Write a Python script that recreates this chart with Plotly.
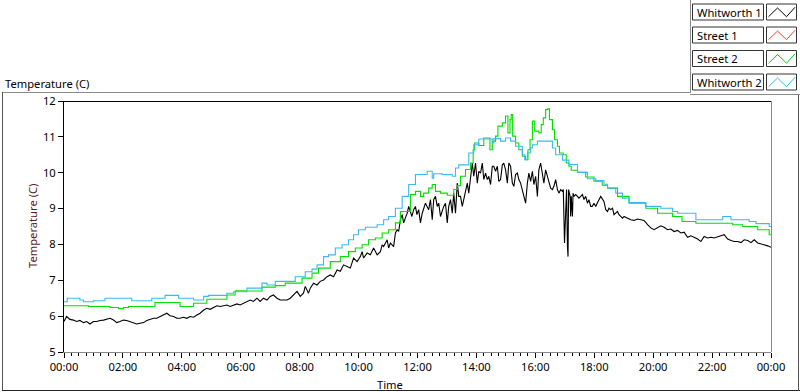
import plotly.graph_objects as go

# ---------------- data ----------------
series_names = ["Whitworth 1", "Street 1", "Street 2", "Whitworth 2"]
series_colors = ["#000000", "#ff3a3a", "#00e000", "#3cb8f5"]

x_tick_hours = [0, 2, 4, 6, 8, 10, 12, 14, 16, 18, 20, 22, 24]
x_tick_labels = ["00:00", "02:00", "04:00", "06:00", "08:00", "10:00", "12:00",
                 "14:00", "16:00", "18:00", "20:00", "22:00", "00:00"]
y_tick_values = [5, 6, 7, 8, 9, 10, 11, 12]

whitworth1_hours = [
    0.00, 0.09, 0.20, 0.32, 0.43, 0.54, 0.66, 0.77, 0.88, 1.00, 1.11, 1.22, 1.34, 1.45, 1.56,
    1.68, 1.79, 1.90, 2.02, 2.13, 2.24, 2.36, 2.47, 2.58, 2.70, 2.81, 2.92, 3.04, 3.15, 3.26,
    3.38, 3.49, 3.60, 3.72, 3.83, 3.94, 4.06, 4.17, 4.28, 4.40, 4.51, 4.62, 4.74, 4.85, 4.96,
    5.08, 5.19, 5.30, 5.42, 5.53, 5.64, 5.76, 5.87, 5.98, 6.09, 6.21, 6.32, 6.43, 6.55, 6.66,
    6.77, 6.89, 7.00, 7.11, 7.23, 7.34, 7.45, 7.57, 7.68, 7.79, 7.91, 8.02, 8.13, 8.19, 8.30,
    8.36, 8.47, 8.59, 8.70, 8.81, 8.93, 9.04, 9.15, 9.27, 9.38, 9.49, 9.61, 9.72, 9.83, 9.95,
    10.06, 10.12, 10.17, 10.29, 10.40, 10.51, 10.63, 10.74, 10.80, 10.85, 10.97, 11.02, 11.08,
    11.14, 11.19, 11.25, 11.31, 11.36, 11.42, 11.48, 11.53, 11.59, 11.65, 11.70, 11.76, 11.81,
    11.87, 11.93, 11.98, 12.04, 12.10, 12.16, 12.27, 12.33, 12.38, 12.44, 12.50, 12.55, 12.61,
    12.67, 12.72, 12.78, 12.84, 12.89, 12.95, 13.01, 13.06, 13.12, 13.18, 13.23, 13.29, 13.35,
    13.40, 13.46, 13.52, 13.57, 13.63, 13.69, 13.74, 13.80, 13.86, 13.91, 13.97, 14.03, 14.08,
    14.14, 14.20, 14.25, 14.31, 14.37, 14.42, 14.48, 14.54, 14.59, 14.65, 14.71, 14.76, 14.82,
    14.88, 14.93, 14.99, 15.05, 15.10, 15.16, 15.22, 15.27, 15.33, 15.39, 15.44, 15.50, 15.56,
    15.61, 15.67, 15.73, 15.78, 15.84, 15.90, 15.95, 16.01, 16.07, 16.12, 16.18, 16.24, 16.29,
    16.35, 16.41, 16.46, 16.52, 16.58, 16.63, 16.69, 16.75, 16.80, 16.86, 16.92, 16.95, 16.99,
    17.03, 17.06, 17.09, 17.11, 17.13, 17.18, 17.20, 17.22, 17.26, 17.28, 17.31, 17.37, 17.43,
    17.48, 17.54, 17.60, 17.65, 17.71, 17.77, 17.82, 17.88, 17.93, 17.99, 18.05, 18.10, 18.16,
    18.22, 18.33, 18.39, 18.45, 18.50, 18.56, 18.62, 18.67, 18.73, 18.79, 18.84, 18.90, 18.96,
    19.01, 19.13, 19.24, 19.35, 19.47, 19.58, 19.69, 19.81, 19.92, 20.03, 20.15, 20.26, 20.37,
    20.49, 20.60, 20.71, 20.83, 20.94, 21.05, 21.17, 21.28, 21.39, 21.51, 21.62, 21.73, 21.85,
    21.96, 22.07, 22.19, 22.30, 22.41, 22.53, 22.64, 22.75, 22.87, 22.98, 23.09, 23.21, 23.32,
    23.43, 23.55, 23.66, 23.77, 23.89, 24.00]
whitworth1_temp = [
    5.85, 5.99, 5.91, 5.89, 5.85, 5.88, 5.82, 5.85, 5.78, 5.85, 5.85, 5.88, 5.89, 5.91, 5.94,
    5.89, 5.82, 5.85, 5.89, 5.88, 5.85, 5.82, 5.78, 5.80, 5.82, 5.88, 5.91, 5.94, 5.94, 5.99,
    6.03, 6.08, 6.01, 5.99, 5.94, 5.94, 5.97, 5.94, 5.99, 5.97, 6.03, 6.08, 6.17, 6.22, 6.19,
    6.25, 6.29, 6.27, 6.29, 6.31, 6.27, 6.31, 6.34, 6.31, 6.36, 6.41, 6.45, 6.41, 6.50, 6.41,
    6.50, 6.45, 6.55, 6.59, 6.50, 6.45, 6.45, 6.45, 6.50, 6.59, 6.69, 6.55, 6.64, 6.83, 6.64,
    6.78, 6.92, 6.87, 6.97, 7.01, 7.10, 7.15, 7.10, 7.29, 7.25, 7.43, 7.39, 7.34, 7.62, 7.52,
    7.66, 7.80, 7.62, 7.76, 7.71, 7.90, 7.71, 7.80, 7.99, 7.94, 8.13, 7.90, 8.04,
    7.99, 7.94, 8.32, 8.41, 8.36, 8.69, 8.83, 8.60, 8.74, 8.87, 9.06, 8.87, 8.78,
    8.97, 9.06, 8.83, 8.97, 8.60, 8.87, 9.15, 9.06, 8.97, 9.25, 8.69, 9.25, 9.34,
    9.06, 9.15, 8.78, 8.97, 9.06, 9.15, 8.60, 9.06, 9.25, 8.87, 9.43, 8.87, 9.71,
    9.34, 9.34, 9.06, 9.25, 9.43, 9.71, 9.43, 9.90, 10.27, 9.90, 10.27, 9.71, 10.04,
    9.99, 10.27, 9.81, 9.99, 9.81, 9.90, 9.67, 10.18, 10.18, 10.04, 10.18, 9.76, 9.81,
    10.22, 10.27, 10.08, 9.71, 10.27, 10.18, 9.71, 9.62, 9.95, 9.99, 9.81, 9.71, 9.53,
    9.34, 9.15, 9.71, 9.99, 9.76, 10.04, 9.67, 9.90, 9.34, 10.08, 10.27, 9.99, 9.71,
    10.08, 9.90, 9.71, 9.57, 9.53, 9.62, 9.81, 9.53, 9.43, 9.53, 9.48, 9.53, 8.04,
    8.97, 9.53, 7.94, 7.66, 9.53, 9.34, 8.78, 9.34, 8.78, 9.43, 9.34, 9.39, 9.34,
    9.29, 9.34, 9.39, 9.25, 9.34, 9.15, 9.25, 9.06, 9.06, 9.15, 9.06, 9.15, 9.25,
    9.34, 9.20, 8.97, 8.92, 9.01, 8.97, 9.01, 8.83, 8.87, 8.92, 8.83, 8.78, 8.73,
    8.78, 8.73, 8.69, 8.67, 8.71, 8.69, 8.67, 8.55, 8.46, 8.41, 8.48, 8.52, 8.48,
    8.41, 8.43, 8.36, 8.39, 8.32, 8.34, 8.20, 8.24, 8.20, 8.15, 8.08, 8.22, 8.18,
    8.20, 8.18, 8.22, 8.24, 8.27, 8.15, 8.11, 8.08, 8.08, 8.05, 8.13, 8.11, 8.05,
    8.13, 8.04, 8.02, 7.99, 7.96, 7.92]

street1_hours = []
street1_temp = []

street2_hours = [
    0.00, 0.83, 1.56, 1.85, 2.02, 2.19, 3.09, 3.94, 4.40, 4.85, 5.53, 5.81, 6.15, 6.72, 7.17,
    7.51, 8.08, 8.42, 8.64, 9.04, 9.38, 9.66, 9.89, 10.12, 10.34, 10.57, 10.80, 11.02, 11.25,
    11.42, 11.76, 11.93, 12.10, 12.21, 12.38, 12.50, 12.61, 12.78, 13.01, 13.23, 13.35, 13.46,
    13.63, 13.80, 13.89, 13.94, 14.08, 14.25, 14.46, 14.54, 14.65, 14.73, 14.88, 14.99, 15.07,
    15.14, 15.18, 15.23, 15.33, 15.44, 15.56, 15.67, 15.75, 15.82, 15.90, 15.98, 16.12, 16.20,
    16.27, 16.35, 16.41, 16.48, 16.58, 16.65, 16.75, 16.82, 16.95, 17.05, 17.14, 17.22, 17.43,
    17.71, 17.99, 18.27, 18.45, 18.79, 19.18, 19.75, 20.15, 20.66, 20.98, 21.45, 22.70, 23.04,
    23.55, 23.94, 24.00]
street2_temp = [
    6.29, 6.27, 6.24, 6.21, 6.24, 6.27, 6.38, 6.27, 6.36, 6.47, 6.59, 6.71, 6.70, 6.81, 6.85,
    6.92, 7.06, 7.20, 7.34, 7.52, 7.66, 7.80, 7.90, 7.99, 8.13, 8.18, 8.32, 8.41, 8.60,
    8.92, 9.39, 9.48, 9.34, 9.43, 9.57, 9.67, 9.48, 9.43, 9.37, 9.53, 9.64, 9.90,
    10.09, 10.27, 10.64, 10.83, 10.76, 10.97, 10.64, 10.88, 11.02, 11.30, 11.39, 11.58, 11.11,
    11.48, 11.62, 11.02, 10.83, 10.64, 10.46, 10.36, 10.64, 10.92, 11.44, 11.16, 11.11, 11.34,
    11.53, 11.76, 11.78, 11.48, 11.20, 10.92, 10.74, 10.55, 10.50, 10.27, 10.18, 10.07, 10.01,
    9.88, 9.76, 9.65, 9.57, 9.34, 9.15, 9.01, 8.87, 8.78, 8.64, 8.59, 8.55, 8.50,
    8.41, 8.27, 8.27]

whitworth2_hours = [
    0.00, 0.11, 0.54, 0.66, 1.00, 1.39, 2.30, 2.98, 3.43, 3.89, 4.40, 4.74, 4.91, 5.53, 5.76,
    6.21, 6.72, 6.89, 7.17, 7.85, 8.19, 8.42, 8.59, 8.81, 8.98, 9.21, 9.44, 9.66, 9.83, 10.00,
    10.23, 10.63, 10.85, 11.02, 11.25, 11.48, 11.70, 11.93, 12.33, 12.50, 12.55, 12.84, 13.18,
    13.29, 13.40, 13.74, 13.91, 14.08, 14.54, 14.59, 14.82, 14.99, 15.16, 15.33, 15.56, 15.64,
    15.73, 15.84, 15.90, 16.07, 16.58, 16.69, 16.92, 17.14, 17.43, 17.77, 18.05, 18.33, 18.45,
    18.73, 18.96, 19.18, 19.75, 20.26, 20.66, 20.83, 21.45, 22.36, 22.64, 23.26, 23.49, 23.94,
    24.00]
whitworth2_temp = [
    6.40, 6.50, 6.45, 6.40, 6.43, 6.50, 6.43, 6.50, 6.58, 6.50, 6.45, 6.55, 6.58, 6.64, 6.68,
    6.78, 6.92, 6.87, 6.97, 7.10, 7.24, 7.31, 7.43, 7.66, 7.71, 7.90, 7.99, 8.13, 8.27, 8.41,
    8.48, 8.55, 8.69, 8.78, 9.01, 9.34, 9.67, 9.95, 10.04, 9.85, 9.97, 9.95, 9.90,
    10.13, 10.22, 10.55, 10.78, 10.94, 10.83, 10.95, 10.88, 10.97, 10.88, 10.74, 10.50, 10.36,
    10.55, 10.69, 10.78, 10.88, 10.69, 10.50, 10.35, 10.23, 10.01, 9.83, 9.78, 9.68, 9.57,
    9.43, 9.29, 9.17, 9.06, 9.01, 8.92, 8.87, 8.69, 8.78, 8.69, 8.64, 8.58, 8.50,
    8.50]

series_hours = [whitworth1_hours, street1_hours, street2_hours, whitworth2_hours]
series_temp = [whitworth1_temp, street1_temp, street2_temp, whitworth2_temp]
series_shape = ["linear", "hv", "hv", "hv"]

# ---------------- geometry helpers (pixel -> paper) ----------------
W, H = 800, 392
PL, PR, PT, PB = 64, 771, 101, 352
FONT = "Noto Sans"
FS = 11.2


def px(x):
    return (x - PL) / (PR - PL)


def py(y):
    return (PB - y) / (PB - PT)


fig = go.Figure()
for name, color, hx, ty, shp in zip(series_names, series_colors, series_hours,
                                     series_temp, series_shape):
    fig.add_trace(go.Scatter(x=hx, y=ty, mode="lines", name=name,
                             line=dict(color=color, width=1.1, shape=shp),
                             showlegend=False, hoverinfo="skip"))

shapes = []


def line(x0, y0, x1, y1, color, width=1):
    shapes.append(dict(type="line", xref="paper", yref="paper",
                       x0=px(x0), y0=py(y0), x1=px(x1), y1=py(y1),
                       line=dict(color=color, width=width), layer="above"))


def rect(x0, y0, x1, y1, color):
    shapes.append(dict(type="rect", xref="paper", yref="paper",
                       x0=px(x0), y0=py(y0), x1=px(x1), y1=py(y1),
                       line=dict(color=color, width=1), fillcolor="white",
                       layer="above"))


# outer frame
line(2, 92.5, 690, 92.5, "#8a8a8a")
line(2.5, 92, 2.5, 391, "#555555")
line(2, 390.5, 800, 390.5, "#222222")
line(798.5, 94, 798.5, 391, "#555555")
# legend panel border
line(690.5, 0, 690.5, 93, "#8a8a8a")
line(690, 94.5, 800, 94.5, "#8a8a8a")
# plot area top / right borders
line(64, 101.5, 771.5, 101.5, "#000000")
line(771.5, 101.5, 771.5, 352, "#8a8a8a")

annotations = []
row_tops = [4, 27, 50.5, 74]
for name, color, top in zip(series_names, series_colors, row_tops):
    rect(692.5, top, 763.5, top + 16, "#333333")
    rect(766.5, top, 796.5, top + 16, "#333333")
    path = "M {} {} L {} {} L {} {} L {} {}".format(
        px(768.5), py(top + 12.7), px(777.5), py(top + 4),
        px(786.5), py(top + 12.7), px(795), py(top + 3.3))
    shapes.append(dict(type="path", xref="paper", yref="paper", path=path,
                       line=dict(color=color, width=1), layer="above"))
    annotations.append(dict(text=name, xref="paper", yref="paper",
                            x=px(694.5), y=py(top + 8), xanchor="left", yanchor="middle",
                            showarrow=False, font=dict(family=FONT, size=FS, color="#000000")))

annotations.append(dict(text="Temperature (C)", xref="paper", yref="paper",
                        x=px(3), y=py(83), xanchor="left", yanchor="middle",
                        showarrow=False, font=dict(family=FONT, size=FS, color="#000000")))
annotations.append(dict(text="Time", xref="paper", yref="paper",
                        x=px(390), y=py(384), xanchor="center", yanchor="middle",
                        showarrow=False, font=dict(family=FONT, size=FS, color="#000000")))
annotations.append(dict(text="Temperature (C)", xref="paper", yref="paper",
                        x=px(32), y=py(226), xanchor="center", yanchor="middle",
                        textangle=-90, showarrow=False,
                        font=dict(family=FONT, size=FS, color="#5e1a1a")))

fig.update_layout(
    width=W, height=H, autosize=False,
    margin=dict(l=PL, r=W - PR, t=PT, b=H - PB, pad=0),
    paper_bgcolor="white", plot_bgcolor="white",
    font=dict(family=FONT, size=FS, color="#000000"),
    shapes=shapes, annotations=annotations, showlegend=False,
    xaxis=dict(range=[0, 24], tickmode="array", tickvals=x_tick_hours,
               ticktext=x_tick_labels, showgrid=False, zeroline=False,
               showline=True, linecolor="#8a8a8a", linewidth=1,
               ticks="outside", ticklen=5, tickcolor="#000000", tickwidth=1,
               minor=dict(dtick=0.25, tick0=0, ticks="outside", ticklen=3,
                          tickcolor="#000000", showgrid=False),
               tickfont=dict(family=FONT, size=FS, color="#000000"), fixedrange=True),
    yaxis=dict(range=[5, 12], tickmode="array", tickvals=y_tick_values,
               showgrid=False, zeroline=False, showline=True, linecolor="#000000",
               linewidth=1, ticks="outside", ticklen=5, tickcolor="#000000",
               tickfont=dict(family=FONT, size=FS, color="#000000"), fixedrange=True),
)

fig.write_html("out.html", config={"displayModeBar": False},
               post_script="document.body.style.margin='0';document.body.style.overflow='hidden';")
